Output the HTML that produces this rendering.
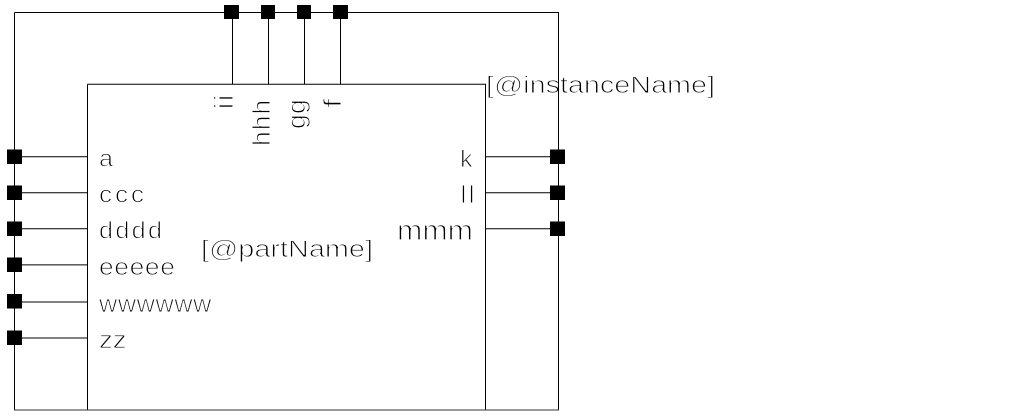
<!DOCTYPE html>
<html><head><meta charset="utf-8"><style>
html,body{margin:0;padding:0;background:#fff;width:1011px;height:419px;overflow:hidden}
svg{display:block}
text{font-family:"Liberation Sans",sans-serif;font-size:24px;fill:#000;stroke:#fff;stroke-width:.95px}
</style></head><body>
<svg width="1011" height="419" viewBox="0 0 1011 419" xmlns="http://www.w3.org/2000/svg">
<rect width="1011" height="419" fill="#fff"/>
<text transform="translate(99,166.5) scale(1.05,1)">a</text>
<text transform="translate(99,202.5) scale(1.1,1)" textLength="41" lengthAdjust="spacing">ccc</text>
<text transform="translate(99,238.5) scale(1.05,1)" textLength="60" lengthAdjust="spacing">dddd</text>
<text transform="translate(99,275) scale(1.1,1)" textLength="69" lengthAdjust="spacing">eeeee</text>
<text transform="translate(99,312) scale(1.05,1)" textLength="107" lengthAdjust="spacing">wwwwww</text>
<text transform="translate(99,348) scale(1.15,1)" textLength="24" lengthAdjust="spacing">zz</text>
<text transform="translate(460,167) scale(1.05,1)">k</text>
<text transform="translate(460.5,203) scale(1.1,1.05)" style="letter-spacing:2px">ll</text>
<text transform="translate(397,240) scale(1,1.2)" textLength="76" lengthAdjust="spacingAndGlyphs">mmm</text>
<text x="486" y="93" textLength="229" lengthAdjust="spacingAndGlyphs">[@instanceName]</text>
<text x="201" y="257" textLength="172" lengthAdjust="spacingAndGlyphs">[@partName]</text>
<text transform="translate(233,109) rotate(-90) scale(1.1,1.1)" style="letter-spacing:2px">ii</text>
<text transform="translate(270,146) rotate(-90) scale(1.1,1.05)" textLength="42" lengthAdjust="spacing">hhh</text>
<text transform="translate(305,129) rotate(-90) scale(1.1,1.05)" textLength="27" lengthAdjust="spacing">gg</text>
<text transform="translate(341,108) rotate(-90) scale(1.4,1.05)">f</text>
<g fill="none" stroke="#000" stroke-width="1">
<path d="M14.5 12.5H558.5V410M14.5 12.5V410"/>
<path d="M14 410H559" stroke="#333"/>
<path d="M87.5 84.3H485.5V409.5M87.5 84.3V409.5"/>
<path d="M232.5 12V84M268.5 12V84M304.5 12V84M340.5 12V84"/>
<path d="M15 156.8H87M15 192.8H87M15 228.8H87M15 264.9H87M15 302H87M15 338H87M486 156.8H558M486 192.8H558M486 228.8H558"/>
</g>
<g fill="#000">
<rect x="224" y="5" width="15" height="14"/><rect x="261" y="5" width="14" height="14"/><rect x="297" y="5" width="14" height="14"/><rect x="333" y="5" width="15" height="14"/>
<rect x="7" y="149.5" width="15" height="14.5"/><rect x="7" y="185.5" width="15" height="14.5"/><rect x="7" y="221.5" width="15" height="14.5"/><rect x="7" y="257.5" width="15" height="14.5"/><rect x="7" y="294" width="15" height="14.5"/><rect x="7" y="330.5" width="15" height="14.5"/>
<rect x="550" y="149.5" width="15" height="14.5"/><rect x="550" y="185.5" width="15" height="14.5"/><rect x="550" y="221.5" width="15" height="14.5"/>
</g>
</svg>
</body></html>
